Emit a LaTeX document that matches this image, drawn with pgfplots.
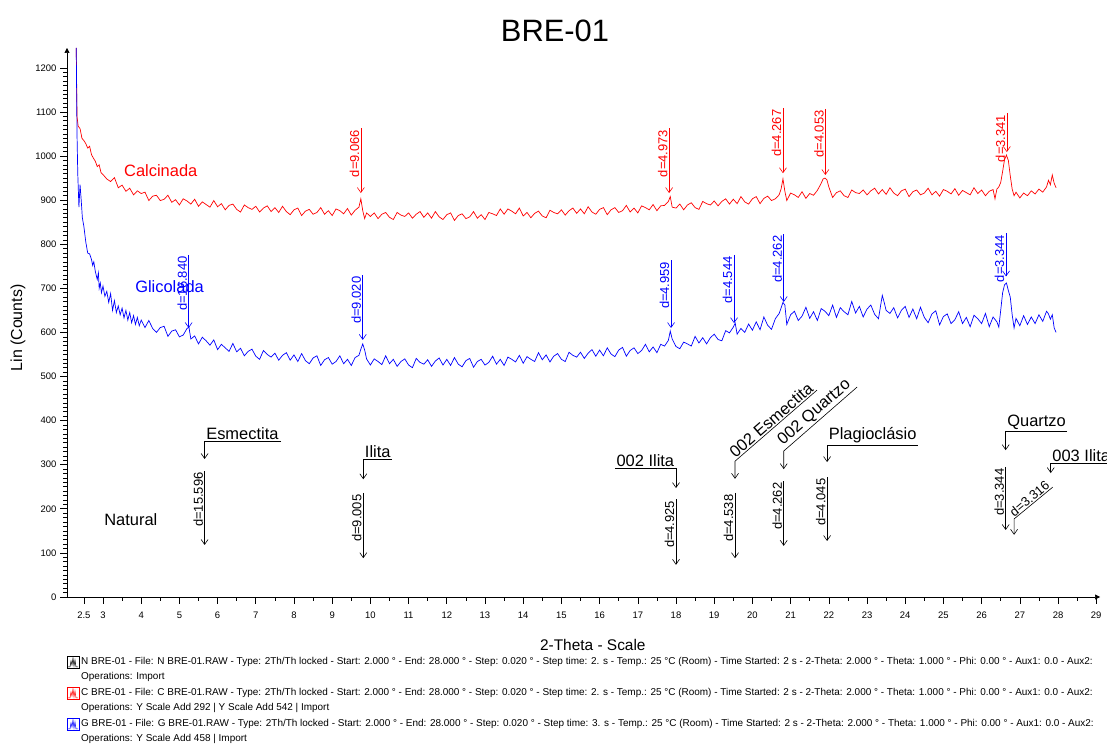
\documentclass[border=0pt]{standalone}
\usepackage{fontspec}
\setmainfont{Liberation Sans}
\usepackage{pgfplots}
\pgfplotsset{compat=1.18}
\usetikzlibrary{arrows.meta}

\newcommand{\lblfont}{\fontsize{13}{15}\selectfont}
\newcommand{\minfont}{\fontsize{16.5}{19}\selectfont}
\newcommand{\legfont}{\fontsize{10}{12}\selectfont}
\tikzset{barb/.style={-{Straight Barb[length=5bp,width=7bp]}}}

% d-spacing label: colour, 2theta, top of line, arrow tip, text
\newcommand{\dlab}[5]{%
  \draw[#1,line width=0.6bp,barb] (axis cs:#2,#3) -- (axis cs:#2,#4);
  \node[#1,rotate=90,anchor=south east,inner sep=1.5bp,font=\lblfont] at (axis cs:#2,#3) {#5};
}

\begin{document}
\begin{tikzpicture}[x=1bp,y=1bp]
\useasboundingbox (0,0) rectangle (1107,745);
\clip (0,0) rectangle (1107,745);
\begin{axis}[
    at={(67bp,148bp)}, anchor=south west,
    scale only axis,
    width=1033bp, height=549bp,
    xmin=2.058, xmax=29.10,
    ymin=0, ymax=1245,
    axis lines=left,
    axis line style={black,line width=0.7bp,-{Triangle[length=5bp,width=5bp]}},
    xtick={2.5,3,4,5,6,7,8,9,10,11,12,13,14,15,16,17,18,19,20,21,22,23,24,25,26,27,28,29},
    minor xtick={3.5,4.5,...,28.5},
    ytick={0,100,...,1200},
    minor y tick num=9,
    tick align=outside,
    major tick length=7bp,
    minor tick length=4bp,
    tick style={black,line width=0.6bp},
    /pgf/number format/assume math mode=true,
    /pgf/number format/1000 sep={},
    ticklabel style={font=\fontsize{9.5}{11}\selectfont},
    xticklabel style={yshift=-4bp},
    title={BRE-01},
    title style={font=\fontsize{31}{34}\selectfont,at={(rel axis cs:0.4724,1.020)},anchor=center},
    xlabel={2-Theta - Scale},
    xlabel style={font=\fontsize{15.5}{18}\selectfont,at={(rel axis cs:0.509,-0.0874)},anchor=center},
    ylabel={Lin (Counts)},
    ylabel style={font=\fontsize{16}{19}\selectfont,at={(rel axis cs:-0.0474,0.49)},anchor=center,rotate=0},
    clip=false,
]
% Calcinada
\addplot[red,line width=0.7bp] coordinates {
(2.30,1245) (2.32,1090) (2.35,1068) (2.40,1062) (2.45,1040) (2.50,1035) (2.55,1028) (2.60,1018) (2.65,1022) (2.70,1003)
(2.75,995) (2.80,988) (2.85,976) (2.90,980) (2.95,962) (3.00,958) (3.1,948) (3.2,942) (3.3,951) (3.4,928)
(3.5,934) (3.6,920) (3.7,927) (3.8,912) (3.9,921)
(4.0,915) (4.1,918) (4.2,899) (4.3,909) (4.4,911) (4.5,899) (4.6,902) (4.7,911) (4.8,895) (4.9,901)
(5.0,889) (5.1,903) (5.2,898) (5.3,891) (5.4,902) (5.5,886) (5.6,896) (5.7,890) (5.8,884) (5.9,899)
(6.0,885) (6.1,892) (6.2,878) (6.3,888) (6.4,891) (6.5,879) (6.6,873) (6.7,889) (6.8,883) (6.9,879)
(7.0,886) (7.1,873) (7.2,882) (7.3,887) (7.4,874) (7.5,883) (7.6,872) (7.7,886) (7.8,874) (7.9,867)
(8.0,878) (8.1,882) (8.2,865) (8.3,875) (8.4,879) (8.5,868) (8.6,872) (8.7,883) (8.8,868) (8.9,876)
(9.0,865) (9.1,880) (9.2,876) (9.3,869) (9.4,881) (9.5,866) (9.6,877) (9.7,884) (9.75,903) (9.8,876)
(9.85,858) (9.9,871) (10.0,863) (10.1,871) (10.2,858) (10.3,868) (10.4,872) (10.5,861) (10.6,856) (10.7,872)
(10.8,866) (10.9,863) (11.0,871) (11.1,859) (11.2,868) (11.3,874) (11.4,861) (11.5,871) (11.6,859) (11.7,874)
(11.8,862) (11.9,856) (12.0,867) (12.1,871) (12.2,854) (12.3,865) (12.4,869) (12.5,858) (12.6,862) (12.7,874)
(12.8,859) (12.9,867) (13.0,856) (13.1,872) (13.2,869) (13.3,865) (13.4,880) (13.5,868) (13.6,880) (13.7,875)
(13.8,869) (13.9,882) (14.0,864) (14.1,872) (14.2,860) (14.3,870) (14.4,875) (14.5,864) (14.6,860) (14.7,877)
(14.8,872) (14.9,869) (15.0,878) (15.1,866) (15.2,876) (15.3,882) (15.4,870) (15.5,880) (15.6,869) (15.7,885)
(15.8,873) (15.9,868) (16.0,879) (16.1,883) (16.2,867) (16.3,878) (16.4,883) (16.5,872) (16.6,876) (16.7,888)
(16.8,873) (16.9,882) (17.0,871) (17.1,887) (17.2,883) (17.3,878) (17.4,890) (17.5,876) (17.6,887) (17.7,888)
(17.8,897) (17.85,908) (17.9,884) (18.0,882) (18.1,891) (18.2,878) (18.3,889) (18.4,894) (18.5,883) (18.6,879)
(18.7,897) (18.8,892) (18.9,889) (19.0,898) (19.1,887) (19.2,897) (19.3,903) (19.4,891) (19.5,902) (19.6,892)
(19.7,908) (19.8,896) (19.9,891) (20.0,903) (20.1,908) (20.2,892) (20.3,904) (20.4,909) (20.5,899) (20.6,903)
(20.7,912) (20.75,925) (20.8,948) (20.85,920) (20.9,899) (21.0,916) (21.1,912) (21.2,906) (21.3,919) (21.4,904)
(21.5,915) (21.6,911) (21.7,922) (21.8,938) (21.85,948) (21.9,950) (21.95,946) (22.0,930) (22.1,906) (22.2,917)
(22.3,921) (22.4,910) (22.5,906) (22.6,923) (22.7,917) (22.8,915) (22.9,923) (23.0,912) (23.1,921) (23.2,927)
(23.3,914) (23.4,924) (23.5,913) (23.6,928) (23.7,916) (23.8,910) (23.9,921) (24.0,925) (24.1,908) (24.2,919)
(24.3,923) (24.4,912) (24.5,916) (24.6,927) (24.7,912) (24.8,920) (24.9,909) (25.0,924) (25.1,920) (25.2,914)
(25.3,926) (25.4,911) (25.5,922) (25.6,917) (25.7,912) (25.8,928) (25.9,915) (26.0,923) (26.1,910) (26.2,920)
(26.3,924) (26.35,903) (26.4,925) (26.45,930) (26.5,940) (26.55,965)
(26.6,992) (26.65,1002) (26.7,990) (26.75,955) (26.8,925) (26.85,910) (26.9,918) (27.0,905) (27.1,916) (27.2,910)
(27.3,921) (27.4,914) (27.5,925) (27.6,918) (27.7,930) (27.75,945) (27.8,935) (27.85,957) (27.9,938) (27.95,928)
};
% Glicolada
\addplot[blue,line width=0.7bp] coordinates {
(2.30,1245) (2.32,1050) (2.34,960) (2.37,884) (2.40,935) (2.43,900) (2.46,860) (2.50,840) (2.55,805) (2.60,780)
(2.65,778) (2.70,765) (2.73,752) (2.76,760) (2.80,738) (2.85,720) (2.88,735) (2.90,700) (2.93,712) (2.96,690)
(3.00,705) (3.05,682) (3.10,693) (3.15,668) (3.20,688) (3.25,650) (3.30,672) (3.35,645) (3.40,660) (3.45,640)
(3.50,655) (3.55,633) (3.60,650) (3.65,628) (3.70,645) (3.75,622) (3.80,638) (3.85,618) (3.90,634) (3.95,615)
(4.0,628) (4.1,611) (4.2,627) (4.3,609) (4.4,600) (4.5,611) (4.6,614) (4.7,591) (4.8,603) (4.9,606)
(5.0,590) (5.1,594) (5.2,609) (5.25,612) (5.3,585) (5.4,592) (5.5,574) (5.6,589) (5.7,581) (5.8,571)
(5.9,583) (6.0,561) (6.1,573) (6.2,565) (6.3,557) (6.4,575) (6.5,556) (6.6,564) (6.7,547) (6.8,557)
(6.9,562) (7.0,546) (7.1,539) (7.2,559) (7.3,550) (7.4,544) (7.5,553) (7.6,537) (7.7,548) (7.8,554)
(7.9,537) (8.0,549) (8.1,534) (8.2,552) (8.3,536) (8.4,529) (8.5,542) (8.6,547) (8.7,525) (8.8,538)
(8.9,543) (9.0,528) (9.1,534) (9.2,547) (9.3,529) (9.4,539) (9.5,525) (9.6,543) (9.7,548) (9.75,562)
(9.8,574) (9.85,560) (9.9,540) (10.0,526) (10.1,540) (10.2,534) (10.3,527) (10.4,547) (10.5,529) (10.6,539)
(10.7,523) (10.8,534) (10.9,540) (11.0,526) (11.1,520) (11.2,541) (11.3,532) (11.4,528) (11.5,538) (11.6,523)
(11.7,535) (11.8,542) (11.9,526) (12.0,539) (12.1,525) (12.2,543) (12.3,528) (12.4,522) (12.5,536) (12.6,541)
(12.7,521) (12.8,534) (12.9,539) (13.0,526) (13.1,532) (13.2,546) (13.3,528) (13.4,539) (13.5,525) (13.6,544)
(13.7,539) (13.8,533) (13.9,548) (14.0,530) (14.1,545) (14.2,539) (14.3,534) (14.4,554) (14.5,538) (14.6,549)
(14.7,533) (14.8,546) (14.9,552) (15.0,539) (15.1,534) (15.2,555) (15.3,548) (15.4,544) (15.5,555) (15.6,541)
(15.7,553) (15.8,561) (15.9,546) (16.0,560) (16.1,547) (16.2,565) (16.3,551) (16.4,545) (16.5,560) (16.6,566)
(16.7,546) (16.8,559) (16.9,565) (17.0,552) (17.1,559) (17.2,573) (17.3,556) (17.4,567) (17.5,554) (17.6,573)
(17.7,569) (17.8,582) (17.85,603) (17.9,585) (18.0,568) (18.1,563) (18.2,578) (18.3,574) (18.4,569) (18.5,591)
(18.6,576) (18.7,588) (18.8,574) (18.9,588) (19.0,596) (19.1,584) (19.2,581) (19.3,604) (19.4,599) (19.5,612)
(19.55,621) (19.6,596) (19.7,609) (19.8,600) (19.9,619) (20.0,605) (20.1,624) (20.2,606) (20.3,635) (20.4,616)
(20.5,607) (20.6,631) (20.7,643) (20.75,655) (20.8,668) (20.85,662) (20.9,618) (21.0,640) (21.1,648) (21.2,627)
(21.3,637) (21.4,657) (21.5,632) (21.6,647) (21.7,627) (21.8,654) (21.9,648) (22.0,638) (22.1,662) (22.2,634)
(22.3,656) (22.4,647) (22.5,640) (22.6,670) (22.7,644) (22.8,659) (22.9,635) (23.0,653) (23.1,662) (23.2,641)
(23.3,631) (23.4,684) (23.45,668) (23.5,650) (23.6,643) (23.7,656) (23.8,633) (23.9,650) (24.0,659) (24.1,634)
(24.2,653) (24.3,631) (24.4,657) (24.5,634) (24.6,622) (24.7,642) (24.8,649) (24.9,617) (25.0,636) (25.1,642)
(25.2,620) (25.3,629) (25.4,647) (25.5,620) (25.6,634) (25.7,613) (25.8,639) (25.9,631) (26.0,620) (26.1,643)
(26.2,613) (26.3,635) (26.4,624) (26.45,612) (26.5,650) (26.55,690) (26.6,708) (26.65,712) (26.7,695) (26.75,680)
(26.8,640) (26.85,610) (26.9,632) (27.0,615) (27.1,638) (27.2,618) (27.3,635) (27.4,620) (27.5,640) (27.6,625)
(27.7,648) (27.75,642) (27.8,630) (27.85,640) (27.9,610) (27.95,600)
};

% series names
\node[red,anchor=west,inner sep=0pt,font=\minfont] at (axis cs:3.55,968) {Calcinada};
\node[blue,anchor=west,inner sep=0pt,font=\minfont] at (axis cs:3.84,703) {Glicolada};
\node[black,anchor=west,inner sep=0pt,font=\minfont] at (axis cs:3.03,175) {Natural};

% Calcinada peaks
\dlab{red}{9.75}{1063}{916}{d=9.066}
\dlab{red}{17.82}{1063}{916}{d=4.973}
\dlab{red}{20.80}{1109}{961}{d=4.267}
\dlab{red}{21.91}{1107}{957}{d=4.053}
\dlab{red}{26.66}{1097}{1009}{d=3.341}
% Glicolada peaks
\dlab{blue}{5.243}{776}{610}{d=16.840}
\dlab{blue}{9.80}{730}{583}{d=9.020}
\dlab{blue}{17.87}{764}{610}{d=4.959}
\dlab{blue}{19.52}{776}{621}{d=4.544}
\dlab{blue}{20.82}{823}{669}{d=4.262}
\dlab{blue}{26.64}{825}{727}{d=3.344}
% Natural peaks
\dlab{black}{5.66}{286}{118}{d=15.596}
\dlab{black}{9.814}{236}{88}{d=9.005}
\dlab{black}{18.0}{222}{73}{d=4.925}
\dlab{black}{19.545}{236}{88}{d=4.538}
\dlab{black}{20.82}{263}{116}{d=4.262}
\dlab{black}{21.955}{272}{127}{d=4.045}
\dlab{black}{26.63}{295}{152}{d=3.344}

% minerals
\draw[line width=0.6bp,barb] (axis cs:7.66,354) -- (axis cs:5.66,354) -- (axis cs:5.66,313);
\node[anchor=south west,inner sep=1.5bp,font=\minfont] at (axis cs:5.66,354) {Esmectita};
\draw[line width=0.6bp,barb] (axis cs:10.57,313) -- (axis cs:9.814,313) -- (axis cs:9.814,267);
\node[anchor=south west,inner sep=1.5bp,font=\minfont] at (axis cs:9.814,313) {Ilita};
\draw[line width=0.6bp,barb] (axis cs:16.40,292) -- (axis cs:18.0,292) -- (axis cs:18.0,247);
\node[anchor=south west,inner sep=1.5bp,font=\minfont] at (axis cs:16.40,292) {002 Ilita};
\draw[line width=0.6bp,barb] (axis cs:21.69,469) -- (axis cs:19.545,308) -- (axis cs:19.545,268);
\node[anchor=south,rotate=41,inner sep=1.5bp,font=\minfont] at (axis cs:20.62,388) {002 Esmectita};
\draw[line width=0.6bp,barb] (axis cs:22.74,476) -- (axis cs:20.82,331) -- (axis cs:20.82,290);
\node[anchor=south,rotate=41,inner sep=1.5bp,font=\minfont] at (axis cs:21.78,403) {002 Quartzo};
\draw[line width=0.6bp,barb] (axis cs:24.33,345) -- (axis cs:21.955,345) -- (axis cs:21.955,306);
\node[anchor=south west,inner sep=1.5bp,font=\minfont] at (axis cs:21.955,345) {Plagioclásio};
\draw[line width=0.6bp,barb] (axis cs:28.24,375) -- (axis cs:26.63,375) -- (axis cs:26.63,333);
\node[anchor=south west,inner sep=1.5bp,font=\minfont] at (axis cs:26.63,375) {Quartzo};
\draw[line width=0.6bp,barb] (axis cs:29.6,304) -- (axis cs:27.81,304) -- (axis cs:27.81,281);
\node[anchor=south west,inner sep=1.5bp,font=\minfont] at (axis cs:27.81,304) {003 Ilita};
\draw[line width=0.6bp,barb] (axis cs:27.86,249) -- (axis cs:26.85,177) -- (axis cs:26.85,141);
\node[anchor=south,rotate=40,inner sep=1bp,font=\lblfont] at (axis cs:27.35,213) {d=3.316};
\end{axis}

% scan list under the chart
\begin{scope}[line width=0.5bp]
  \foreach \c/\yy in {black/83,red/52,blue/21} {
    \draw[\c,fill=white] (67,\yy-6) rectangle (79,\yy+6);
    \draw[\c] (68,\yy-5) -- (70,\yy-5) -- (71,\yy+1) -- (72,\yy-3) -- (73,\yy+4) -- (74,\yy-4) -- (75,\yy+2) -- (76,\yy-5) -- (78,\yy-5);
  }
\end{scope}
\begin{scope}[every node/.style={anchor=west,inner sep=0pt,font=\legfont}]
\node at (81,83) {N BRE-01 - File: N BRE-01.RAW - Type: 2Th/Th locked - Start: 2.000 ° - End: 28.000 ° - Step: 0.020 ° - Step time: 2. s - Temp.: 25 °C (Room) - Time Started: 2 s - 2-Theta: 2.000 ° - Theta: 1.000 ° - Phi: 0.00 ° - Aux1: 0.0 - Aux2:};
\node at (81,68) {Operations: Import};
\node at (81,52) {C BRE-01 - File: C BRE-01.RAW - Type: 2Th/Th locked - Start: 2.000 ° - End: 28.000 ° - Step: 0.020 ° - Step time: 2. s - Temp.: 25 °C (Room) - Time Started: 2 s - 2-Theta: 2.000 ° - Theta: 1.000 ° - Phi: 0.00 ° - Aux1: 0.0 - Aux2:};
\node at (81,37) {Operations: Y Scale Add 292 | Y Scale Add 542 | Import};
\node at (81,21) {G BRE-01 - File: G BRE-01.RAW - Type: 2Th/Th locked - Start: 2.000 ° - End: 28.000 ° - Step: 0.020 ° - Step time: 3. s - Temp.: 25 °C (Room) - Time Started: 2 s - 2-Theta: 2.000 ° - Theta: 1.000 ° - Phi: 0.00 ° - Aux1: 0.0 - Aux2:};
\node at (81,6) {Operations: Y Scale Add 458 | Import};
\end{scope}
\end{tikzpicture}
\end{document}
